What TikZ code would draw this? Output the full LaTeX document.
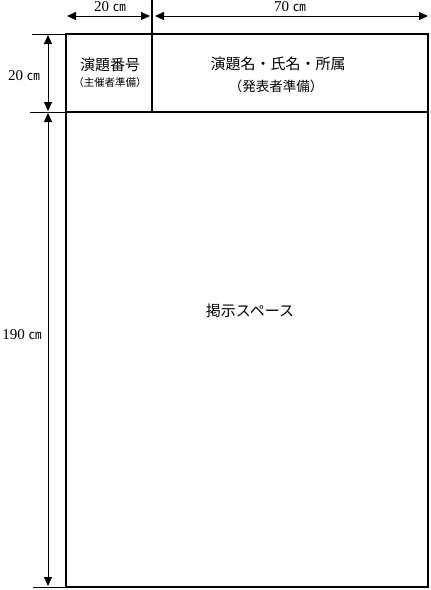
\documentclass[tikz,border=0pt]{standalone}
\usepackage{fontspec}
\setmainfont{Liberation Serif}
\newfontfamily\cjk{Noto Sans CJK JP}
\usetikzlibrary{arrows.meta,positioning}

\begin{document}
\begin{tikzpicture}[x=1pt,y=-1pt,
    board/.style={line width=1.8pt},
    rule/.style={line width=1.1pt},
    guide/.style={line width=0.8pt},
    dimline/.style={line width=0.9pt,{Triangle[length=9pt,width=8pt]}-{Triangle[length=9pt,width=8pt]}},
    title/.style={font=\cjk\fontsize{15}{18}\selectfont},
    note/.style={font=\cjk\fontsize{10.5}{12}\selectfont},
    dimlabel/.style={font=\fontsize{15}{17}\selectfont}]
    \useasboundingbox (0,0) rectangle (431,590);
    % board corners and the header line
    \coordinate (b_tl) at (66,34);
    \coordinate (b_br) at (428,587);
    \coordinate (h_l)  at (66,112);
    \coordinate (h_r)  at (428,112);
    \coordinate (d_top) at (152,0);
    \coordinate (d_bot) at (152,112);
    % ends of the guide lines on the left
    \coordinate (g_top) at (32,34);
    \coordinate (g_mid) at (30,112);
    \coordinate (g_bot) at (33,587);
    \coordinate (b_bl) at (66,587);
    % ends of the dimension arrows
    \coordinate (w1_l) at (67,16);
    \coordinate (w1_r) at (150,16);
    \coordinate (w2_l) at (155,16);
    \coordinate (w2_r) at (428,16);
    \coordinate (v1_t) at (48,35);
    \coordinate (v1_b) at (48,111);
    \coordinate (v2_t) at (48,113);
    \coordinate (v2_b) at (48,586);

    \draw[board] (b_tl) rectangle (b_br);
    \draw[rule] (h_l) -- (h_r);
    \draw[rule] (d_top) -- (d_bot);
    \draw[guide] (g_top) -- (b_tl);
    \draw[guide] (g_mid) -- (h_l);
    \draw[guide] (g_bot) -- (b_bl);

    \draw[dimline] (w1_l) -- (w1_r);
    \draw[dimline] (w2_l) -- (w2_r);
    \draw[dimline] (v1_t) -- (v1_b);
    \draw[dimline] (v2_t) -- (v2_b);

    \node[dimlabel] (w1_lab) at (110,7)  {20 {\cjk\fontsize{13}{14}\selectfont ㎝}};
    \node[dimlabel] (w2_lab) at (290,7)  {70 {\cjk\fontsize{13}{14}\selectfont ㎝}};
    \node[dimlabel] (v1_lab) at (24,76)  {20 {\cjk\fontsize{13}{14}\selectfont ㎝}};
    \node[dimlabel] (v2_lab) at (22,335) {190 {\cjk\fontsize{13}{14}\selectfont ㎝}};

    \node[title] (num)      at (110,65)  {演題番号};
    \node[note]  (num_note) at (110,83)  {（主催者準備）};
    \node[title] (name)     at (278,64)  {演題名・氏名・所属};
    \node[title,font=\cjk\fontsize{13.5}{16}\selectfont] (name_note) at (276,86) {（発表者準備）};
    \node[title] (space)    at (250,311) {掲示スペース};
\end{tikzpicture}
\end{document}
